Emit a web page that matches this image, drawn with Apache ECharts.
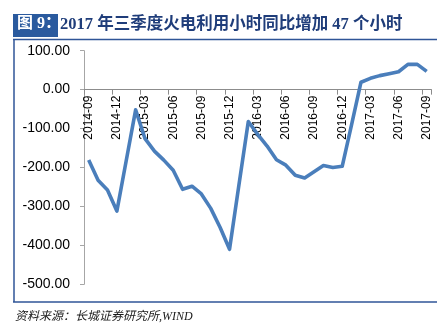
<!DOCTYPE html>
<html>
<head>
<meta charset="utf-8">
<script src="https://cdn.jsdelivr.net/npm/echarts@6/dist/echarts.min.js"></script>
<style>
  html, body { margin: 0; padding: 0; background: #fff; }
  #chart { width: 447px; height: 331px; }
</style>
</head>
<body>
<div id="chart"></div>
<script>
// Monthly thermal power utilisation hours, year-on-year change (hours)
const months = [
  '2014-09','2014-10','2014-11','2014-12','2015-01','2015-02','2015-03','2015-04','2015-05',
  '2015-06','2015-07','2015-08','2015-09','2015-10','2015-11','2015-12','2016-01','2016-02',
  '2016-03','2016-04','2016-05','2016-06','2016-07','2016-08','2016-09','2016-10','2016-11',
  '2016-12','2017-01','2017-02','2017-03','2017-04','2017-05','2017-06','2017-07','2017-08','2017-09'
];
const yoyChange = [
  -181, -233, -258, -312, -182, -52, -126, -158, -181,
  -207, -256, -248, -268, -305, -354, -410, -245, -82,
  -115, -145, -180, -194, -220, -227, -211, -195, -200,
  -197, -90, 19, 29, 36, 41, 46, 65, 65, 47
];
const yTicks = { min: -500, max: 100, step: 100 };

const titleText = '2017 年三季度火电利用小时同比增加 47 个小时';
const figureTag = '图 9：';
const sourceText = '资料来源：长城证券研究所,WIND';

const chart = echarts.init(document.getElementById('chart'), null, { renderer: 'canvas' });
const frameBlue = '#2f5597';

// plot area geometry
const gridTop = 50.7, gridBottom = 46.7, chartH = 331;
const plotH = chartH - gridTop - gridBottom;
// lift the category axis from the bottom edge up to the zero line
const zeroLift = plotH * (0 - yTicks.min) / (yTicks.max - yTicks.min);

chart.setOption({
  animation: false,
  backgroundColor: '#ffffff',
  grid: { left: 84, right: 15.6, top: gridTop, bottom: gridBottom, containLabel: false },
  xAxis: {
    type: 'category',
    data: months,
    boundaryGap: true,
    position: 'bottom',
    offset: -zeroLift,
    axisLine: { onZero: false, lineStyle: { color: '#8c8c8c', width: 1 } },
    axisTick: { show: true, interval: 2, length: 5, lineStyle: { color: '#8c8c8c' } },
    axisLabel: {
      interval: 2, rotate: 90, margin: 6,
      fontFamily: 'Liberation Sans, Arial, sans-serif', fontSize: 12, color: '#000'
    },
    splitLine: { show: false }
  },
  yAxis: {
    type: 'value',
    min: yTicks.min, max: yTicks.max, interval: yTicks.step,
    axisLine: { show: true, lineStyle: { color: '#a6a6a6', width: 1 } },
    axisTick: { show: true, length: 4, lineStyle: { color: '#a6a6a6' } },
    axisLabel: {
      margin: 14,
      fontFamily: 'Liberation Sans, Arial, sans-serif', fontSize: 14, color: '#000',
      formatter: v => v.toFixed(2)
    },
    splitLine: { show: false }
  },
  series: [{
    type: 'line',
    data: yoyChange,
    showSymbol: false,
    symbol: 'none',
    lineStyle: { color: '#4a7ebb', width: 3.6, join: 'round' },
    z: 3
  }],
  graphic: [
    // figure tag box
    { type: 'rect', shape: { x: 13, y: 14, width: 45, height: 23 }, style: { fill: '#2a5a9e' } },
    { type: 'text', x: 17, y: 16, style: {
        text: figureTag, fill: '#fff',
        font: 'bold 16px "Liberation Serif", "Noto Sans CJK SC", serif'
    } },
    { type: 'text', x: 60, y: 16, style: {
        text: titleText, fill: '#1f3d7a',
        font: 'bold 16.5px "Liberation Serif", "Noto Sans CJK SC", serif'
    } },
    // frame lines
    { type: 'line', shape: { x1: 13, y1: 39.5, x2: 437, y2: 39.5 }, style: { stroke: frameBlue, lineWidth: 1.5 } },
    { type: 'line', shape: { x1: 14, y1: 39.5, x2: 14, y2: 302 }, style: { stroke: frameBlue, lineWidth: 1.5 } },
    { type: 'line', shape: { x1: 13, y1: 302, x2: 437, y2: 302 }, style: { stroke: frameBlue, lineWidth: 1.5 } },
    { type: 'text', x: 15, y: 311, style: {
        text: sourceText, fill: '#1a1a1a',
        font: 'italic 12px "Liberation Serif", "Noto Sans CJK SC", serif'
    } }
  ]
});
</script>
</body>
</html>
